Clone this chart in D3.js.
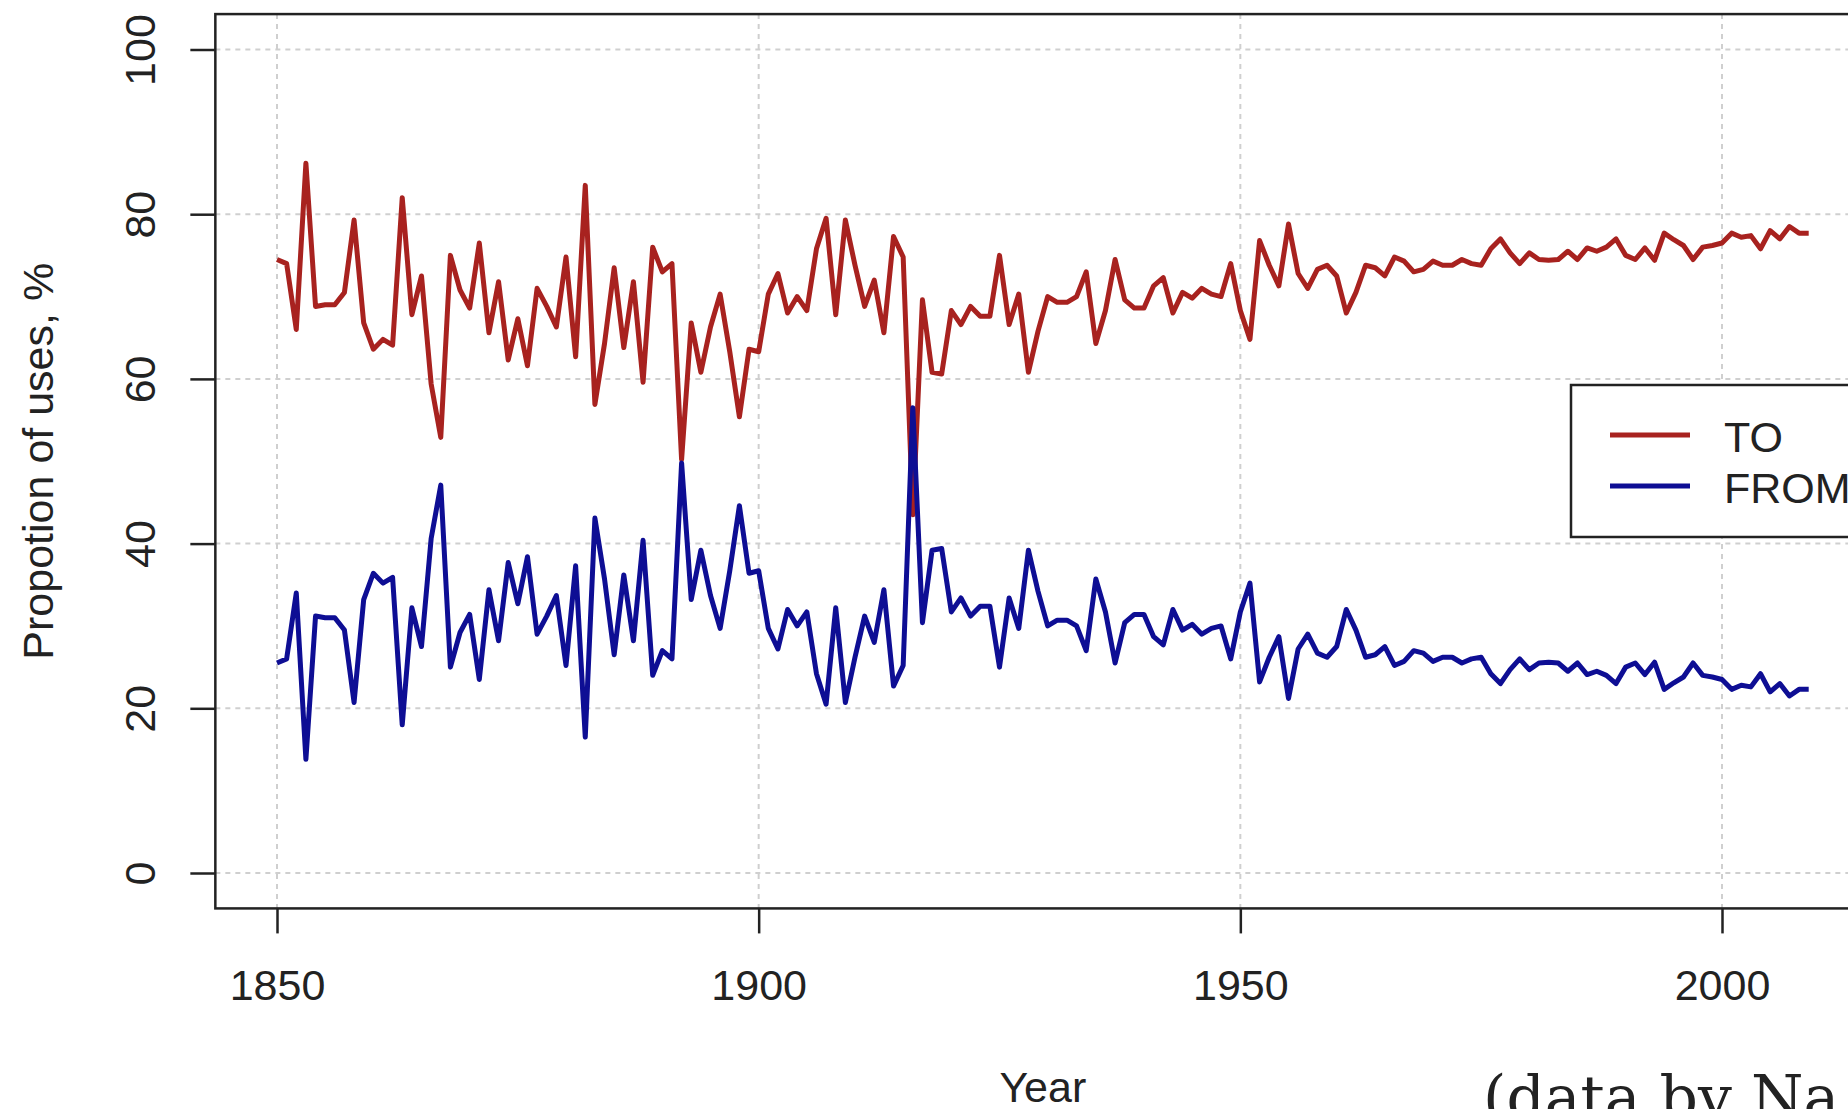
<!DOCTYPE html>
<html>
<head>
<meta charset="utf-8">
<script src="https://cdn.jsdelivr.net/npm/d3@7"></script>
<style>
  body { margin: 0; background: #fff; overflow: hidden; }
  svg { display: block; }
  text { font-family: "Liberation Sans", Arial, sans-serif; fill: #222; }
</style>
</head>
<body>
<svg id="chart" width="1848" height="1109"></svg>
<script>
// years 1850..2009, one value per year
var years = d3.range(1850, 2010);

var toValues = [
  74.5, 74.0, 66.0, 86.2, 68.8, 69.0, 69.0, 70.5, 79.3, 66.8,
  63.6, 64.8, 64.1, 82.0, 67.8, 72.5, 59.4, 52.9, 75.0, 70.8,
  68.6, 76.5, 65.6, 71.8, 62.3, 67.3, 61.6, 71.0, 68.8, 66.3,
  74.8, 62.7, 83.5, 56.9, 64.3, 73.5, 63.8, 71.8, 59.6, 76.0,
  73.0, 74.0, 50.2, 66.8, 60.8, 66.3, 70.3, 63.3, 55.4, 63.6,
  63.3, 70.3, 72.8, 68.0, 70.0, 68.3, 75.8, 79.5, 67.8, 79.3,
  73.8, 68.8, 72.0, 65.6, 77.3, 74.8, 43.5, 69.6, 60.8, 60.6,
  68.3, 66.6, 68.8, 67.6, 67.6, 75.0, 66.6, 70.3, 60.8, 65.8,
  70.0, 69.3, 69.3, 70.0, 73.0, 64.3, 68.3, 74.5, 69.6, 68.6,
  68.6, 71.3, 72.3, 68.0, 70.5, 69.8, 71.0, 70.3, 70.0, 74.0,
  68.3, 64.8, 76.8, 73.8, 71.3, 78.8, 72.8, 71.0, 73.3, 73.8,
  72.5, 68.0, 70.5, 73.8, 73.5, 72.5, 74.8, 74.3, 73.0, 73.3,
  74.3, 73.8, 73.8, 74.5, 74.0, 73.8, 75.8, 77.0, 75.3, 74.0,
  75.3, 74.5, 74.4, 74.5, 75.5, 74.5, 75.9, 75.5, 76.0, 77.0,
  75.0, 74.5, 75.9, 74.4, 77.7, 76.9, 76.2, 74.5, 76.0, 76.2,
  76.5, 77.7, 77.2, 77.4, 75.8, 78.0, 77.0, 78.5, 77.7, 77.7
];

var fromValues = [
  25.5, 26.0, 34.0, 13.8, 31.2, 31.0, 31.0, 29.5, 20.7, 33.2,
  36.4, 35.2, 35.9, 18.0, 32.2, 27.5, 40.6, 47.1, 25.0, 29.2,
  31.4, 23.5, 34.4, 28.2, 37.7, 32.7, 38.4, 29.0, 31.2, 33.7,
  25.2, 37.3, 16.5, 43.1, 35.7, 26.5, 36.2, 28.2, 40.4, 24.0,
  27.0, 26.0, 49.8, 33.2, 39.2, 33.7, 29.7, 36.7, 44.6, 36.4,
  36.7, 29.7, 27.2, 32.0, 30.0, 31.7, 24.2, 20.5, 32.2, 20.7,
  26.2, 31.2, 28.0, 34.4, 22.7, 25.2, 56.5, 30.4, 39.2, 39.4,
  31.7, 33.4, 31.2, 32.4, 32.4, 25.0, 33.4, 29.7, 39.2, 34.2,
  30.0, 30.7, 30.7, 30.0, 27.0, 35.7, 31.7, 25.5, 30.4, 31.4,
  31.4, 28.7, 27.7, 32.0, 29.5, 30.2, 29.0, 29.7, 30.0, 26.0,
  31.7, 35.2, 23.2, 26.2, 28.7, 21.2, 27.2, 29.0, 26.7, 26.2,
  27.5, 32.0, 29.5, 26.2, 26.5, 27.5, 25.2, 25.7, 27.0, 26.7,
  25.7, 26.2, 26.2, 25.5, 26.0, 26.2, 24.2, 23.0, 24.7, 26.0,
  24.7, 25.5, 25.6, 25.5, 24.5, 25.5, 24.1, 24.5, 24.0, 23.0,
  25.0, 25.5, 24.1, 25.6, 22.3, 23.1, 23.8, 25.5, 24.0, 23.8,
  23.5, 22.3, 22.8, 22.6, 24.2, 22.0, 23.0, 21.5, 22.3, 22.3
];

var xTicks = [1850, 1900, 1950, 2000];
var yTicks = [0, 20, 40, 60, 80, 100];
var seriesNames = ["TO", "FROM"];
var seriesColors = ["#a8221f", "#0e0e94"];

var svg = d3.select("#chart");

var x = d3.scaleLinear().domain([1850, 2000]).range([277, 1722]);
var y = d3.scaleLinear().domain([0, 100]).range([873, 49.5]);

// plot region like R's 4% padding
var plotLeft = x(1843.6), plotRight = x(2015.4);
var plotTop = y(104.3), plotBottom = y(-4.3);

// grid (dotted light gray)
var grid = svg.append("g").attr("class", "grid")
  .attr("stroke", "#cfcfcf").attr("stroke-width", 2).attr("stroke-dasharray", "5,5");
grid.selectAll(".gx").data(xTicks).enter().append("line")
  .attr("x1", d => x(d)).attr("x2", d => x(d))
  .attr("y1", plotTop).attr("y2", plotBottom);
grid.selectAll(".gy").data(yTicks).enter().append("line")
  .attr("x1", plotLeft).attr("x2", plotRight)
  .attr("y1", d => y(d)).attr("y2", d => y(d));

// lines
var line = d3.line()
  .x((d, i) => x(years[i]))
  .y(d => y(d));

[toValues, fromValues].forEach(function (vals, k) {
  svg.append("path")
    .datum(vals)
    .attr("d", line)
    .attr("fill", "none")
    .attr("stroke", seriesColors[k])
    .attr("stroke-width", 5)
    .attr("stroke-linejoin", "round");
});

// frame
svg.append("rect")
  .attr("x", plotLeft).attr("y", plotTop)
  .attr("width", plotRight - plotLeft).attr("height", plotBottom - plotTop)
  .attr("fill", "none").attr("stroke", "#222").attr("stroke-width", 2.5);

// x axis
var xAxis = svg.append("g")
  .attr("transform", "translate(0," + plotBottom + ")")
  .call(d3.axisBottom(x).tickValues(xTicks).tickSize(25).tickFormat(d3.format("d")));
xAxis.select(".domain").remove();
xAxis.selectAll(".tick line").attr("stroke", "#222").attr("stroke-width", 2.5);
xAxis.selectAll(".tick text")
  .attr("y", 92).attr("dy", 0)
  .style("font-size", "43px").style("font-family", '"Liberation Sans", Arial, sans-serif')
  .attr("fill", "#222");

// y axis, labels turned like R's default
var yAxis = svg.append("g")
  .attr("transform", "translate(" + plotLeft + ",0)")
  .call(d3.axisLeft(y).tickValues(yTicks).tickSize(25));
yAxis.select(".domain").remove();
yAxis.selectAll(".tick line").attr("stroke", "#222").attr("stroke-width", 2.5);
yAxis.selectAll(".tick text")
  .attr("x", 0).attr("y", -60).attr("dy", 0)
  .attr("transform", "rotate(-90)")
  .attr("text-anchor", "middle")
  .style("font-size", "43px").style("font-family", '"Liberation Sans", Arial, sans-serif')
  .attr("fill", "#222");

// axis titles
svg.append("text")
  .attr("transform", "translate(53," + ((plotTop + plotBottom) / 2) + ") rotate(-90)")
  .attr("text-anchor", "middle")
  .style("font-size", "43px")
  .text("Propotion of uses, %");

svg.append("text")
  .attr("x", (plotLeft + plotRight) / 2).attr("y", 1102)
  .attr("text-anchor", "middle")
  .style("font-size", "43px")
  .text("Year");

// legend
var legend = svg.append("g");
legend.append("rect")
  .attr("x", 1571).attr("y", 385).attr("width", 400).attr("height", 152)
  .attr("fill", "#fff").attr("stroke", "#222").attr("stroke-width", 2.5);
seriesNames.forEach(function (name, k) {
  var ly = 435 + k * 51;
  legend.append("line")
    .attr("x1", 1610).attr("x2", 1690).attr("y1", ly).attr("y2", ly)
    .attr("stroke", seriesColors[k]).attr("stroke-width", 5);
  legend.append("text")
    .attr("x", 1724).attr("y", ly + 17)
    .style("font-size", "43px")
    .text(name);
});

// source note, runs off the right edge as in the original
svg.append("text")
  .attr("x", 1483).attr("y", 1118)
  .style("font-family", '"DejaVu Serif", "Liberation Serif", serif')
  .style("font-size", "60px")
  .attr("fill", "#111")
  .text("(data by Na");
</script>
</body>
</html>
